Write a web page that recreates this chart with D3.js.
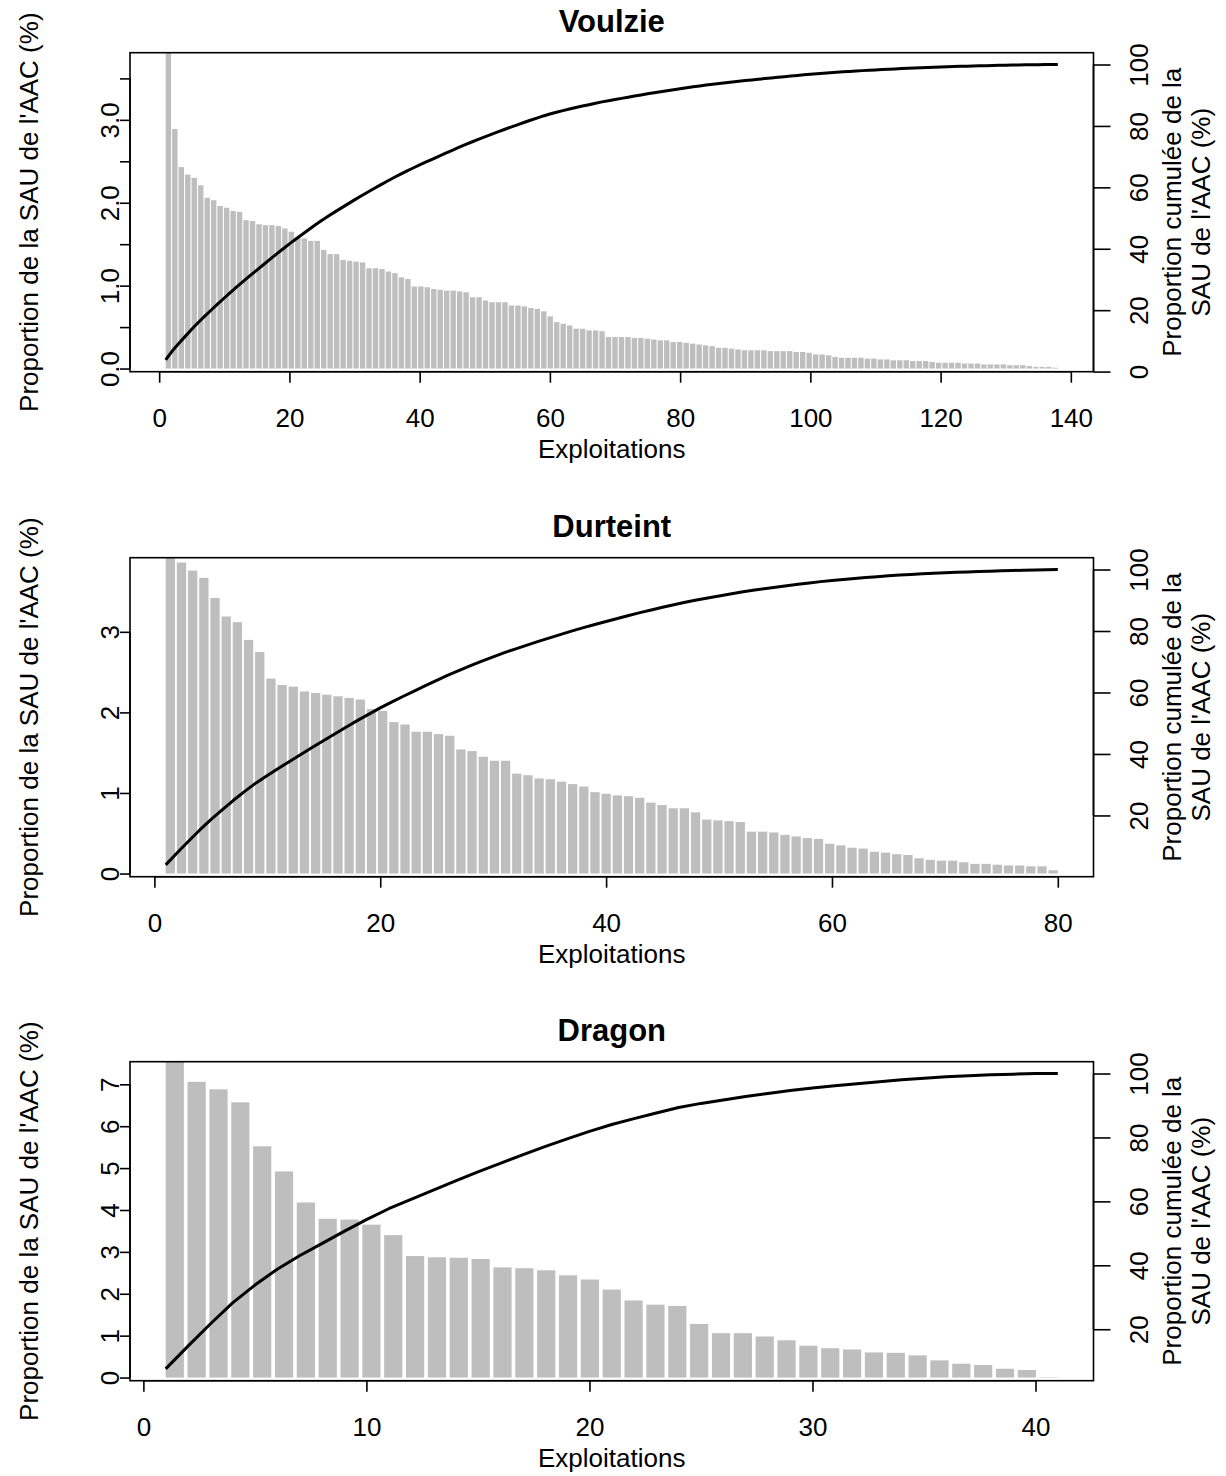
<!DOCTYPE html>
<html><head><meta charset="utf-8">
<script src="https://cdn.jsdelivr.net/npm/d3@7"></script>
<style>
body{margin:0;background:#fff}
svg{display:block}
text{font-family:"Liberation Sans",Arial,Helvetica,sans-serif;fill:#000}
</style>
</head><body>
<svg id="chart" width="1226" height="1476"></svg>
<script>
// ---------- data ----------
const titles = ["Voulzie", "Durteint", "Dragon"];

const voulzieShares = [3.81,2.89,2.43,2.34,2.30,2.21,2.06,2.03,1.96,1.94,
 1.90,1.89,1.79,1.78,1.74,1.73,1.73,1.72,1.69,1.65,
 1.59,1.57,1.54,1.54,1.43,1.38,1.38,1.31,1.30,1.29,
 1.28,1.21,1.21,1.20,1.17,1.15,1.10,1.08,0.99,0.99,
 0.98,0.96,0.95,0.94,0.94,0.93,0.92,0.86,0.86,0.82,
 0.80,0.80,0.80,0.76,0.76,0.75,0.73,0.72,0.69,0.63,
 0.56,0.54,0.52,0.48,0.48,0.46,0.46,0.45,0.38,0.38,
 0.38,0.38,0.37,0.37,0.36,0.35,0.34,0.34,0.32,0.32,
 0.31,0.30,0.29,0.28,0.27,0.25,0.25,0.24,0.23,0.22,
 0.22,0.22,0.22,0.21,0.21,0.21,0.21,0.20,0.20,0.19,
 0.17,0.17,0.16,0.14,0.13,0.13,0.13,0.13,0.12,0.12,
 0.11,0.11,0.10,0.10,0.10,0.09,0.09,0.09,0.08,0.07,
 0.07,0.07,0.07,0.06,0.06,0.06,0.05,0.05,0.05,0.05,
 0.04,0.04,0.04,0.03,0.02,0.02,0.02,0.01];

const durteintShares = [3.92,3.86,3.76,3.67,3.42,3.19,3.12,2.90,2.75,2.42,
 2.34,2.32,2.26,2.24,2.22,2.20,2.18,2.16,2.04,2.02,
 1.88,1.85,1.76,1.76,1.73,1.71,1.54,1.52,1.45,1.40,
 1.40,1.24,1.22,1.18,1.17,1.14,1.11,1.08,1.01,0.99,
 0.97,0.96,0.94,0.88,0.85,0.81,0.81,0.76,0.67,0.66,
 0.65,0.64,0.52,0.52,0.51,0.48,0.46,0.44,0.43,0.37,
 0.35,0.32,0.31,0.27,0.26,0.24,0.23,0.19,0.17,0.16,
 0.16,0.14,0.12,0.12,0.11,0.10,0.10,0.09,0.09,0.04];

const dragonShares = [7.54,7.06,6.88,6.57,5.52,4.92,4.18,3.79,3.77,3.65,
 3.40,2.90,2.87,2.86,2.83,2.63,2.61,2.56,2.44,2.34,
 2.10,1.84,1.74,1.71,1.28,1.06,1.06,0.98,0.89,0.76,
 0.70,0.67,0.60,0.59,0.53,0.41,0.33,0.30,0.21,0.18,
 0.01];

const xTickValues = [[0,20,40,60,80,100,120,140],[0,20,40,60,80],[0,10,20,30,40]];
const leftTickValues = [[0,0.5,1,1.5,2,2.5,3,3.5],[0,1,2,3],[0,1,2,3,4,5,6,7]];
const leftTickLabels = [["0.0","","1.0","","2.0","","3.0",""],["0","1","2","3"],["0","1","2","3","4","5","6","7"]];
const rightTickValues = [0,20,40,60,80,100];
const xLabel = "Exploitations";
const leftLabel = "Proportion de la SAU de l'AAC (%)";
const rightLabelLines = ["Proportion cumulée de la", "SAU de l'AAC (%)"];

// ---------- layout ----------
const svg = d3.select("#chart");
const L = 130, R = 1093.5, H = 319;
const tops = [52.7, 557.7, 1061.7];
const FS = 26;
const series = [voulzieShares, durteintShares, dragonShares];

series.forEach((vals, i) => {
  const n = vals.length, top = tops[i], bot = top + H;
  const g = svg.append("g");

  // barplot coordinates (R barplot: width 1, space 0.2, 4% extension)
  const b0 = 0.2, b1 = 1.2 * n, be = 0.04 * (b1 - b0);
  const xb = d3.scaleLinear().domain([b0 - be, b1 + be]).range([L, R]);
  // line coordinates (x = 1..n, 4% extension)
  const le = 0.04 * (n - 1);
  const xl = d3.scaleLinear().domain([1 - le, n + le]).range([L, R]);
  const vmax = d3.max(vals);
  const yl = d3.scaleLinear().domain([-0.01 * vmax, vmax]).range([bot, top]);
  const total = d3.sum(vals);
  const cum = Array.from(d3.cumsum(vals), v => v / total * 100);
  const c1 = cum[0], ce = 0.04 * (100 - c1);
  const yr = d3.scaleLinear().domain([c1 - ce, 100 + ce]).range([bot, top]);

  const clipId = "clip" + i;
  svg.append("clipPath").attr("id", clipId).append("rect")
    .attr("x", L).attr("y", top).attr("width", R - L).attr("height", H);

  g.append("g").attr("clip-path", `url(#${clipId})`)
    .selectAll("rect").data(vals).join("rect")
    .attr("x", (d, k) => xb(0.2 + k * 1.2))
    .attr("width", xb(1) - xb(0))
    .attr("y", d => yl(d))
    .attr("height", d => yl(0) - yl(d))
    .attr("fill", "#bebebe");

  g.append("path").datum(cum)
    .attr("d", d3.line().x((d, k) => xl(k + 1)).y(d => yr(d)))
    .attr("fill", "none").attr("stroke", "#000").attr("stroke-width", 3)
    .attr("stroke-linejoin", "round");

  // box
  g.append("rect").attr("x", L).attr("y", top).attr("width", R - L).attr("height", H)
    .attr("fill", "none").attr("stroke", "#000").attr("stroke-width", 1.6);

  // bottom axis
  const ax = g.append("g").attr("transform", `translate(0,${bot})`)
    .call(d3.axisBottom(xl).tickValues(xTickValues[i]).tickSize(11).tickSizeOuter(0));
  ax.select(".domain").attr("d", `M${xl(xTickValues[i][0])},0H${xl(xTickValues[i][xTickValues[i].length-1])}`).attr("stroke-width", 1.6);
  ax.selectAll(".tick line").attr("stroke-width", 1.6);
  ax.selectAll(".tick text").attr("font-size", FS).attr("y", null).attr("dy", null)
    .attr("dominant-baseline", "central").attr("transform", "translate(0,46)");

  // left axis
  const lv = leftTickValues[i];
  const ay = g.append("g").attr("transform", `translate(${L},0)`)
    .call(d3.axisLeft(yl).tickValues(lv).tickSize(10).tickSizeOuter(0)
      .tickFormat((d, j) => leftTickLabels[i][j]));
  ay.select(".domain").attr("d", `M0,${yl(lv[0])}V${yl(lv[lv.length-1])}`).attr("stroke-width", 1.6);
  ay.selectAll(".tick line").attr("stroke-width", 1.6);
  ay.selectAll(".tick text").attr("font-size", FS).attr("x", null).attr("dy", null)
    .attr("text-anchor", "middle").attr("dominant-baseline", "central")
    .attr("transform", "translate(-20,0) rotate(-90)");

  // right axis
  const [rd0, rd1] = yr.domain();
  const rv = rightTickValues.filter(v => v >= rd0 && v <= rd1);
  const ar = g.append("g").attr("transform", `translate(${R},0)`)
    .call(d3.axisRight(yr).tickValues(rv).tickSize(17).tickSizeOuter(0).tickFormat(d3.format("d")));
  ar.select(".domain").attr("d", `M0,${yr(rv[0])}V${yr(rv[rv.length-1])}`).attr("stroke-width", 1.6);
  ar.selectAll(".tick line").attr("stroke-width", 1.6);
  ar.selectAll(".tick text").attr("font-size", FS).attr("x", null).attr("dy", null)
    .attr("text-anchor", "middle").attr("dominant-baseline", "central")
    .attr("transform", "translate(45.5,0) rotate(-90)");

  // title
  g.append("text").attr("x", (L + R) / 2).attr("y", top - 31)
    .attr("text-anchor", "middle").attr("dominant-baseline", "central")
    .attr("font-size", 31).attr("font-weight", "bold").text(titles[i]);

  // x label
  g.append("text").attr("x", (L + R) / 2).attr("y", bot + 77.5)
    .attr("text-anchor", "middle").attr("dominant-baseline", "central")
    .attr("font-size", FS).text(xLabel);

  // left label
  const mid = (top + bot) / 2;
  g.append("text").attr("transform", `translate(29,${mid}) rotate(-90)`)
    .attr("text-anchor", "middle").attr("dominant-baseline", "central")
    .attr("font-size", FS).text(leftLabel);

  // right label (two lines)
  [1172, 1201].forEach((x, j) => {
    g.append("text").attr("transform", `translate(${x},${mid}) rotate(-90)`)
      .attr("text-anchor", "middle").attr("dominant-baseline", "central")
      .attr("font-size", FS).text(rightLabelLines[j]);
  });
});
</script>
</body></html>
